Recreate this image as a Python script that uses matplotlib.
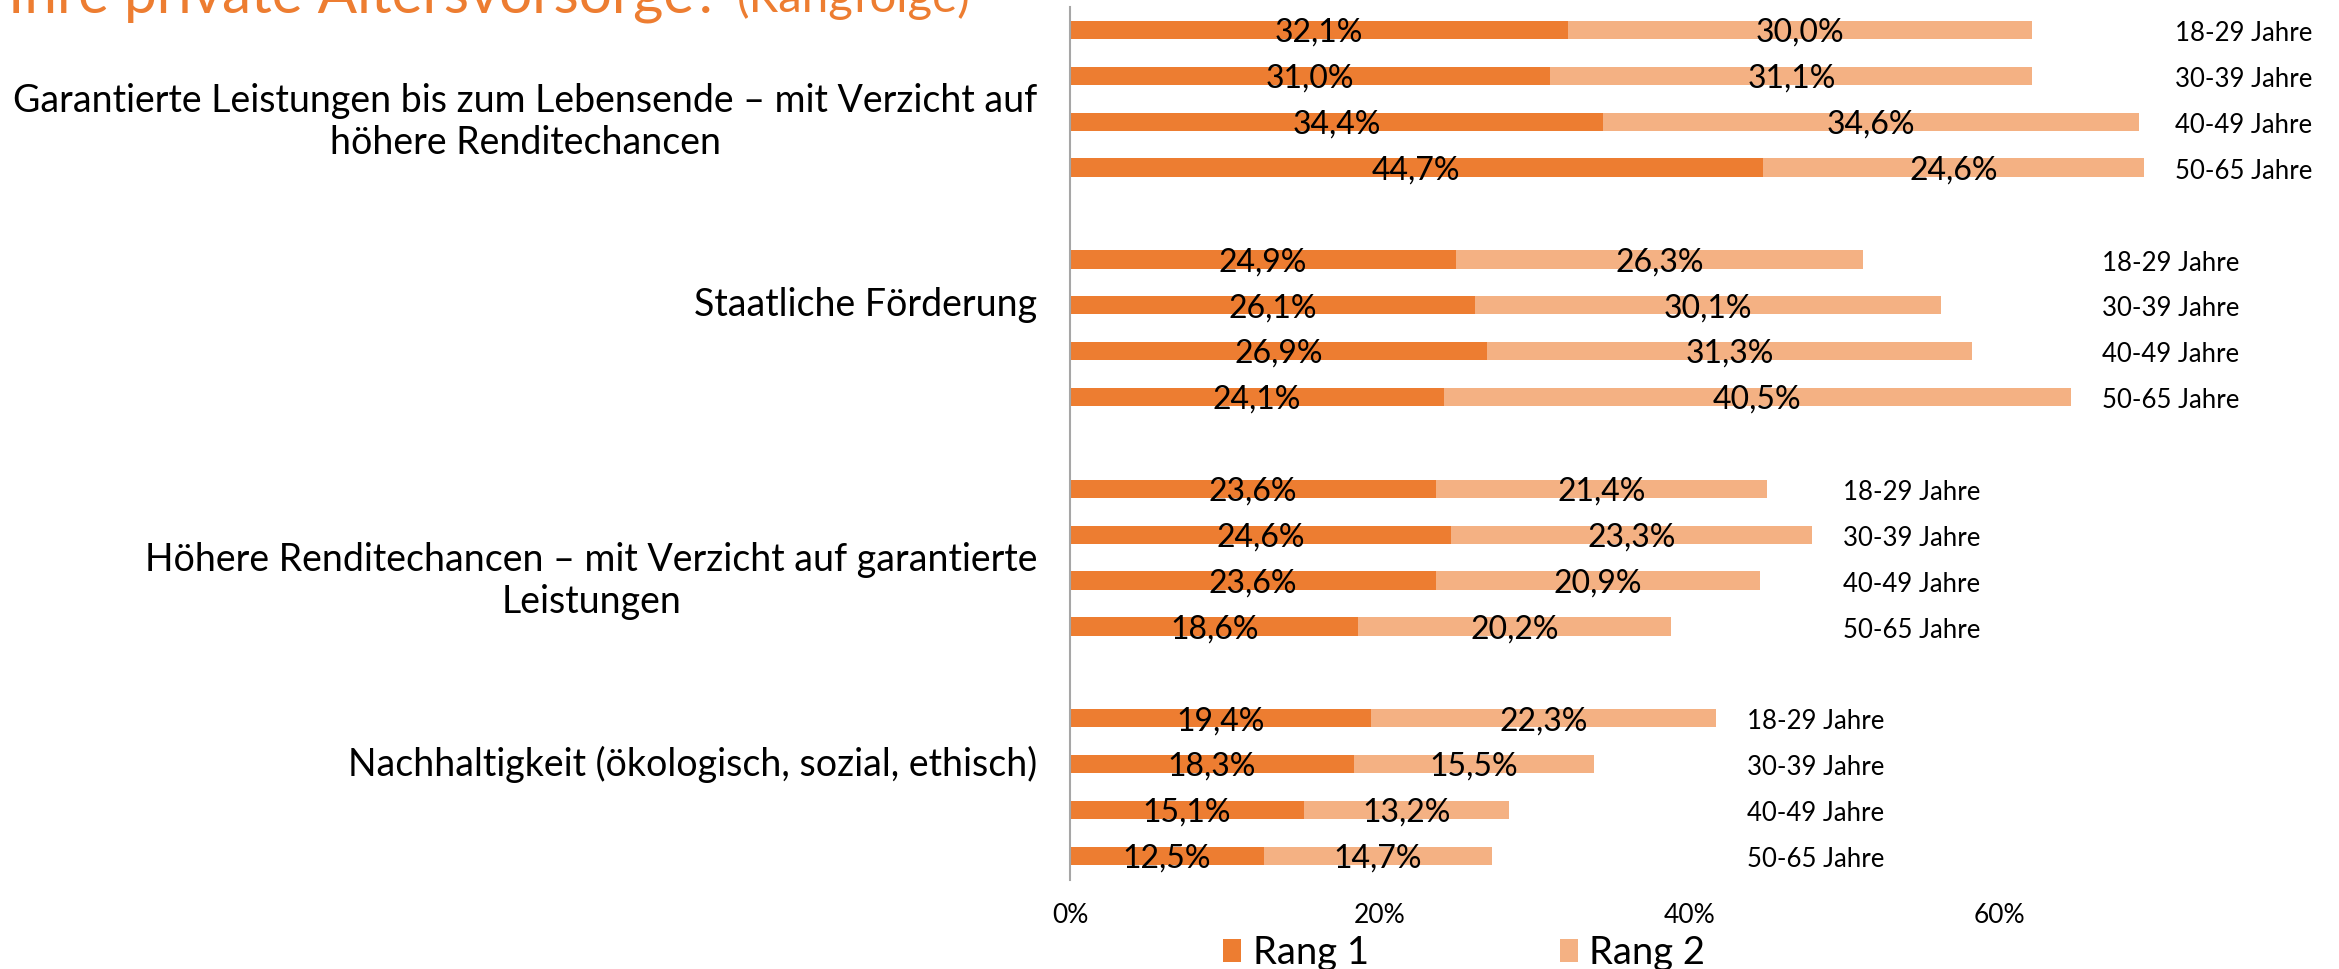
import numpy as np
import matplotlib
matplotlib.use("Agg")
import matplotlib.pyplot as plt

plt.rcParams['font.family'] = ['Lato', 'DejaVu Sans']

# data
categories = [
    "Garantierte Leistungen bis zum Lebensende – mit Verzicht auf\nhöhere Renditechancen",
    "Staatliche Förderung",
    "Höhere Renditechancen – mit Verzicht auf garantierte\nLeistungen",
    "Nachhaltigkeit (ökologisch, sozial, ethisch)",
]
ages = ["18-29 Jahre", "30-39 Jahre", "40-49 Jahre", "50-65 Jahre"]
rang1 = [32.1, 31.0, 34.4, 44.7,
         24.9, 26.1, 26.9, 24.1,
         23.6, 24.6, 23.6, 18.6,
         19.4, 18.3, 15.1, 12.5]
rang2 = [30.0, 31.1, 34.6, 24.6,
         26.3, 30.1, 31.3, 40.5,
         21.4, 23.3, 20.9, 20.2,
         22.3, 15.5, 13.2, 14.7]
xticks = [0, 20, 40, 60]
series_names = ["Rang 1", "Rang 2"]

c1 = "#ED7D31"
c2 = "#F4B183"

fig = plt.figure(figsize=(23.39, 9.69), dpi=100)
ax = fig.add_axes([0.4575, 0.092, 0.53, 0.9008])

n_age = len(ages)
ypos = []
for g in range(len(categories)):
    for a in range(n_age):
        ypos.append(g * (n_age + 1) + a)
ypos = np.array(ypos)
r1 = np.array(rang1)
r2 = np.array(rang2)

ax.barh(ypos, r1, height=0.4, color=c1, label=series_names[0])
ax.barh(ypos, r2, left=r1, height=0.4, color=c2, label=series_names[1])

def fmt(v):
    return ("%.1f%%" % v).replace(".", ",")

for y, a, b in zip(ypos, r1, r2):
    ax.text(a / 2, y + 0.06, fmt(a), ha="center", va="center", fontsize=23)
    ax.text(a + b / 2, y + 0.06, fmt(b), ha="center", va="center", fontsize=23)

# age labels to the right of each group, group names on the left
label_row_offset = [2, 1, 2, 1]
for g, cat in enumerate(categories):
    idx = slice(g * n_age, (g + 1) * n_age)
    gmax = (r1[idx] + r2[idx]).max()
    for a, age in enumerate(ages):
        ax.text(gmax + 2, ypos[g * n_age + a] + 0.08, age, ha="left",
                va="center", fontsize=18.5)
    ax.text(-2.1, ypos[g * n_age] + label_row_offset[g], cat, ha="right",
            va="center", multialignment="center", fontsize=27)

ax.set_xlim(0, 80)
ax.set_ylim(18.52, -0.5)
ax.set_xticks(xticks)
ax.set_xticklabels(["%d%%" % t for t in xticks], fontsize=19)
ax.set_yticks([])
ax.tick_params(axis="x", length=0, pad=17)
for s in ["top", "right", "bottom"]:
    ax.spines[s].set_visible(False)
ax.spines["left"].set_color("#A6A6A6")
ax.spines["left"].set_linewidth(1.5)

fig.legend(loc="center", bbox_to_anchor=(0.626, 0.016), ncol=2, frameon=False,
           fontsize=27.5, handlelength=0.47, handleheight=0.55, handletextpad=0.3,
           columnspacing=5.0)

# title, cut off at the top edge like in the source
fig.text(0.0034, 0.9876, "Ihre private Altersvorsorge?", color=c1, fontsize=42,
         ha="left", va="baseline")
fig.text(0.315, 0.9876, "(Rangfolge)", color=c1, fontsize=34,
         ha="left", va="baseline")

fig.savefig("out.png", dpi=100)
